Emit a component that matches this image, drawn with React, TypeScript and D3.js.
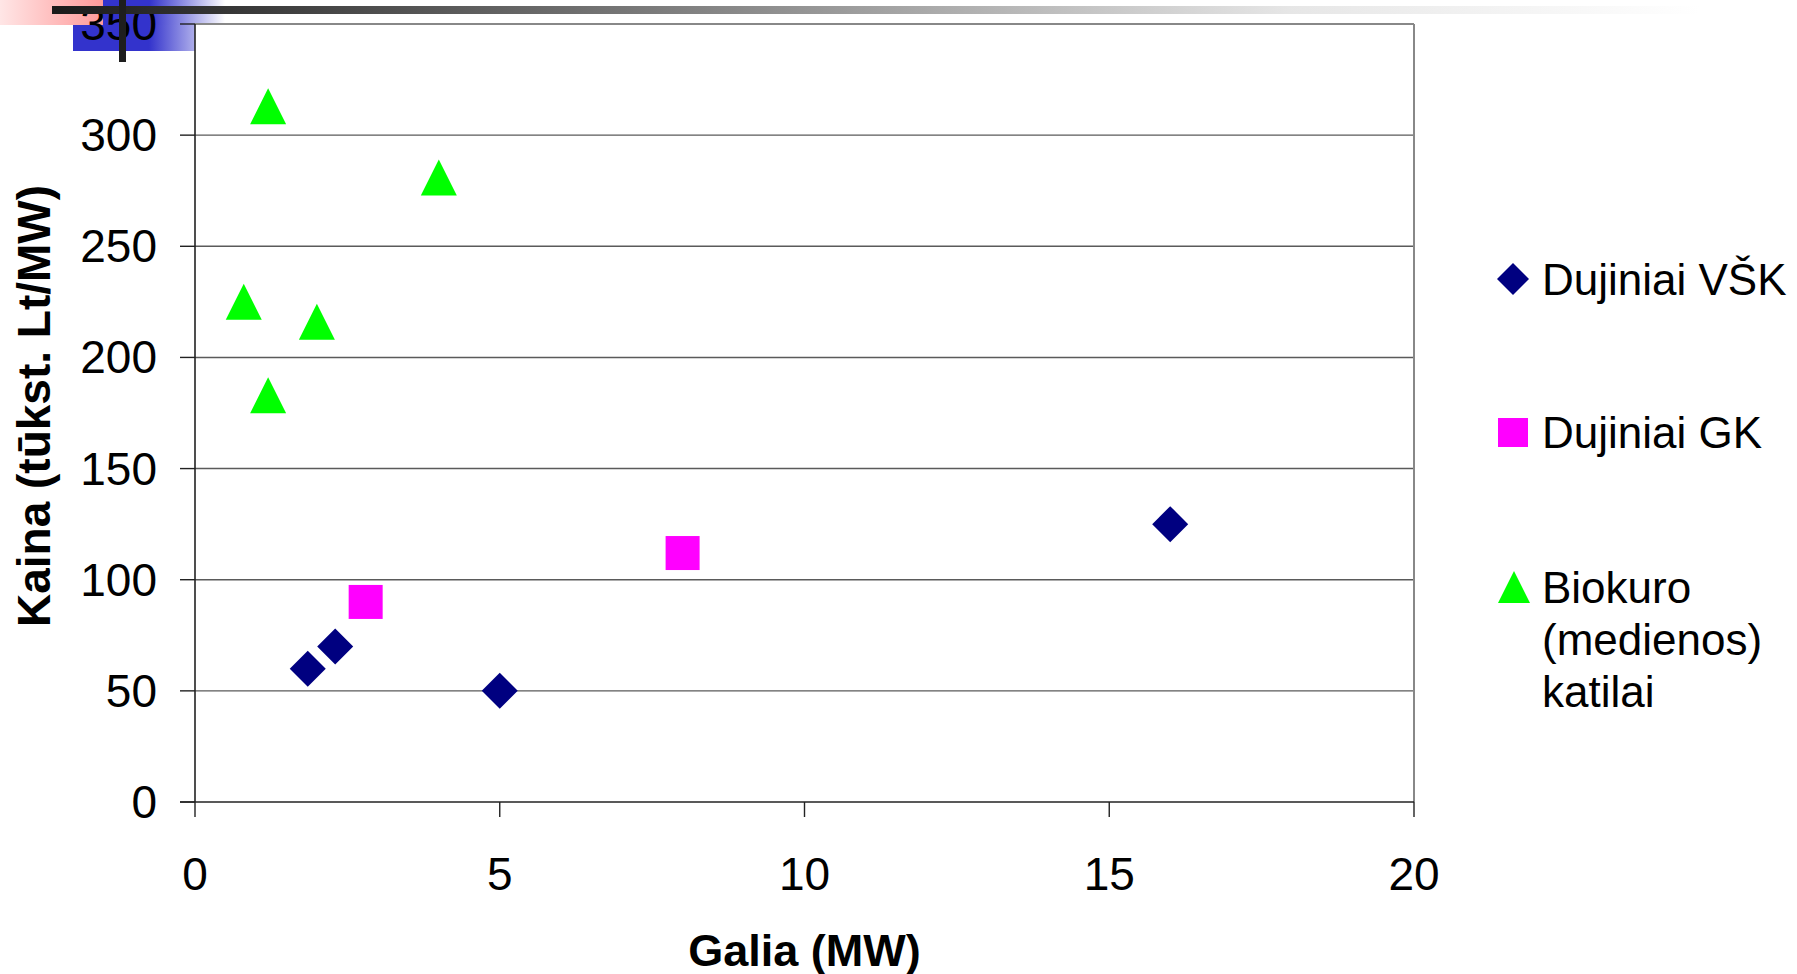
import React from "react";
import * as d3 from "d3";

const vskX = [1.85, 2.3, 5, 16];
const vskY = [60, 70, 50, 125];
const gkX = [2.8, 8];
const gkY = [90, 112];
const bioX = [1.2, 4, 0.8, 2, 1.2];
const bioY = [313, 281, 225, 216, 183];
const xTicks = [0, 5, 10, 15, 20];
const yTicks = [0, 50, 100, 150, 200, 250, 300, 350];
const legendNames = ["Dujiniai VŠK", "Dujiniai GK", "Biokuro", "(medienos)", "katilai"];

const W = 1797, H = 974;
const FONT = "'Liberation Sans', Arial, Helvetica, sans-serif";

export default function App() {
  const x = d3.scaleLinear().domain([0, 20]).range([195, 1414]);
  const y = d3.scaleLinear().domain([0, 350]).range([802, 24]);

  const diamond = (cx: number, cy: number, r: number) => {
    const p = d3.path();
    p.moveTo(cx, cy - r); p.lineTo(cx + r, cy); p.lineTo(cx, cy + r); p.lineTo(cx - r, cy); p.closePath();
    return p.toString();
  };
  const tri = (cx: number, cy: number, s: number) => {
    const p = d3.path();
    p.moveTo(cx, cy - s / 2); p.lineTo(cx + s / 2, cy + s / 2); p.lineTo(cx - s / 2, cy + s / 2); p.closePath();
    return p.toString();
  };
  const sq = 34;

  return (
    <svg width={W} height={H} style={{ position: "absolute", left: 0, top: 0, background: "#fff" }} fontFamily={FONT}>
      <defs>
        <linearGradient id="barG" x1="52" x2="1700" y1="0" y2="0" gradientUnits="userSpaceOnUse">
          <stop offset="0" stopColor="#1a1a1a" />
          <stop offset="0.35" stopColor="#777" />
          <stop offset="0.75" stopColor="#e6e6e6" />
          <stop offset="1" stopColor="#ffffff" />
        </linearGradient>
        <linearGradient id="blueA" x1="103" x2="225" y1="0" y2="0" gradientUnits="userSpaceOnUse">
          <stop offset="0" stopColor="#3333cc" />
          <stop offset="0.38" stopColor="#3333cc" />
          <stop offset="1" stopColor="#ffffff" />
        </linearGradient>
        <linearGradient id="blueB" x1="73" x2="225" y1="0" y2="0" gradientUnits="userSpaceOnUse">
          <stop offset="0" stopColor="#3333cc" />
          <stop offset="0.5" stopColor="#3333cc" />
          <stop offset="1" stopColor="#ffffff" />
        </linearGradient>
        <linearGradient id="pinkG" x1="0" x2="103" y1="0" y2="0" gradientUnits="userSpaceOnUse">
          <stop offset="0" stopColor="#ffe6e6" />
          <stop offset="1" stopColor="#ff9999" />
        </linearGradient>
      </defs>

      {/* decoration background */}
      <rect x={0} y={0} width={103} height={25} fill="url(#pinkG)" />
      <rect x={103} y={0} width={122} height={25} fill="url(#blueA)" />
      <rect x={73} y={25} width={122} height={26} fill="url(#blueB)" />

      {/* gridlines */}
      {yTicks.filter((t) => t > 0 && t < 350).map((t) => (
        <line key={"g" + t} x1={x(0)} x2={x(20)} y1={y(t)} y2={y(t)} stroke="#5a5a5a" strokeWidth={1.4} />
      ))}
      {/* plot border */}
      <line x1={x(0)} x2={x(20)} y1={y(350)} y2={y(350)} stroke="#888" strokeWidth={2} />
      <line x1={x(20)} x2={x(20)} y1={y(350)} y2={y(0)} stroke="#888" strokeWidth={2} />
      {/* axes */}
      <line x1={x(0)} x2={x(0)} y1={y(350)} y2={y(0)} stroke="#222" strokeWidth={1.6} />
      <line x1={x(0) - 15} x2={x(20)} y1={y(0)} y2={y(0)} stroke="#222" strokeWidth={1.6} />
      {yTicks.map((t) => (
        <line key={"yt" + t} x1={x(0) - 15} x2={x(0)} y1={y(t)} y2={y(t)} stroke="#222" strokeWidth={1.4} />
      ))}
      {xTicks.map((t) => (
        <line key={"xt" + t} x1={x(t)} x2={x(t)} y1={y(0)} y2={y(0) + 15} stroke="#222" strokeWidth={1.4} />
      ))}

      {/* tick labels */}
      {yTicks.map((t) => (
        <text key={"yl" + t} x={157} y={y(t) + 16} fontSize={46} textAnchor="end" fill="#000">{t}</text>
      ))}
      {xTicks.map((t) => (
        <text key={"xl" + t} x={x(t)} y={890} fontSize={46} textAnchor="middle" fill="#000">{t}</text>
      ))}

      {/* axis titles */}
      <text x={(x(0) + x(20)) / 2} y={966} fontSize={45} fontWeight="bold" textAnchor="middle">Galia (MW)</text>
      <text transform={`translate(50,406) rotate(-90)`} fontSize={46} fontWeight="bold" textAnchor="middle">Kaina (tūkst. Lt/MW)</text>

      {/* data */}
      {bioX.map((v, i) => (
        <path key={"b" + i} d={tri(x(v), y(bioY[i]), 36)} fill="#00ff00" />
      ))}
      {gkX.map((v, i) => (
        <rect key={"s" + i} x={x(v) - sq / 2} y={y(gkY[i]) - sq / 2} width={sq} height={sq} fill="#ff00ff" />
      ))}
      {vskX.map((v, i) => (
        <path key={"d" + i} d={diamond(x(v), y(vskY[i]), 18)} fill="#000080" />
      ))}

      {/* legend */}
      <path d={diamond(1513, 279, 16)} fill="#000080" />
      <text x={1542} y={295} fontSize={44}>{legendNames[0]}</text>
      <rect x={1498} y={418} width={30} height={29} fill="#ff00ff" />
      <text x={1542} y={448} fontSize={44}>{legendNames[1]}</text>
      <path d={tri(1514, 587, 32)} fill="#00ff00" />
      <text x={1542} y={603} fontSize={44}>{legendNames[2]}</text>
      <text x={1542} y={655} fontSize={44}>{legendNames[3]}</text>
      <text x={1542} y={707} fontSize={44}>{legendNames[4]}</text>

      {/* decoration bars on top */}
      <rect x={52} y={6} width={1700} height={8} fill="url(#barG)" />
      <rect x={119} y={0} width={7} height={62} fill="#1e1e1e" />
    </svg>
  );
}
